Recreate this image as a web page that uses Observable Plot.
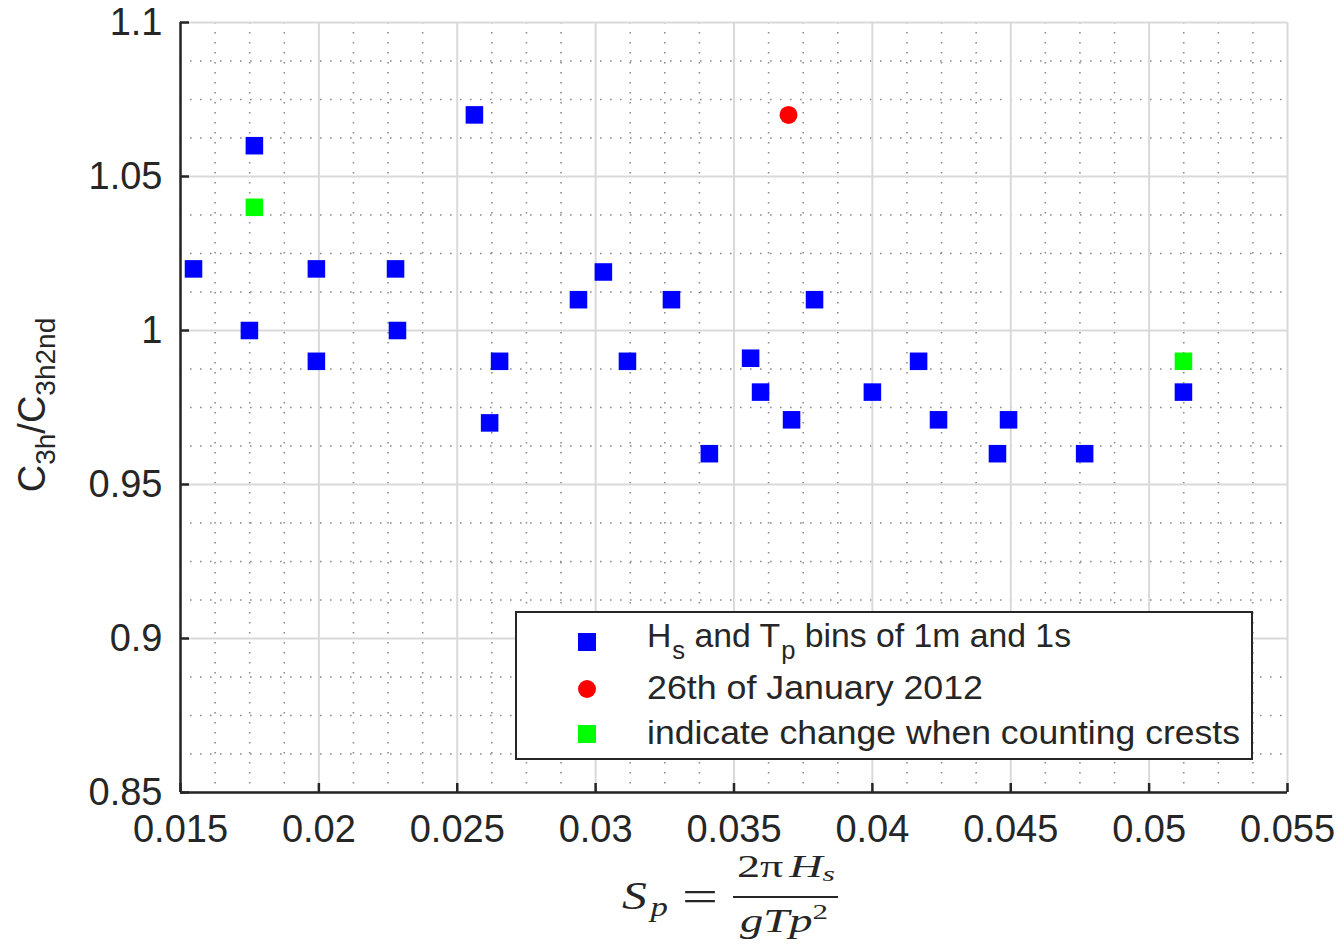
<!DOCTYPE html>
<html><head><meta charset="utf-8">
<script src="https://cdn.jsdelivr.net/npm/d3@7"></script>
<script src="https://cdn.jsdelivr.net/npm/@observablehq/plot@0.6"></script>
<style>html,body{margin:0;padding:0;background:#fff}svg{display:block}</style>
</head><body><div id="chart"></div>
<script>
// ---- data ----
const blueX = [0.01547, 0.01767, 0.01749, 0.01991, 0.01991, 0.02277, 0.02284, 0.02562, 0.02617, 0.02653,
               0.02938, 0.03028, 0.03115, 0.03274, 0.03411, 0.03560, 0.03596, 0.03708, 0.03791, 0.04000,
               0.04167, 0.04239, 0.04452, 0.04492, 0.04767, 0.05124];
const blueY = [1.02, 1.06, 1.00, 1.02, 0.99, 1.02, 1.00, 1.07, 0.97, 0.99,
               1.01, 1.019, 0.99, 1.01, 0.96, 0.991, 0.98, 0.971, 1.01, 0.98,
               0.99, 0.971, 0.96, 0.971, 0.96, 0.98];
const redX = [0.03697];
const redY = [1.07];
const greenX = [0.01767, 0.05124];
const greenY = [1.04, 0.99];

const xTicks = [0.015, 0.02, 0.025, 0.03, 0.035, 0.04, 0.045, 0.05, 0.055];
const xTickLabels = ["0.015", "0.02", "0.025", "0.03", "0.035", "0.04", "0.045", "0.05", "0.055"];
const yTicks = [0.85, 0.9, 0.95, 1, 1.05, 1.1];
const yTickLabels = ["0.85", "0.9", "0.95", "1", "1.05", "1.1"];
const xMinor = d3.range(0, 33).filter(i => i % 4 !== 0).map(i => 0.015 + i * 0.00125);
const yMinor = d3.range(0, 21).filter(i => i % 4 !== 0).map(i => 0.85 + i * 0.0125);

const blue = blueX.map((x, i) => ({x, y: blueY[i]}));
const red = redX.map((x, i) => ({x, y: redY[i]}));
const green = greenX.map((x, i) => ({x, y: greenY[i]}));

// ---- layout ----
const W = 1344, H = 947, mL = 180, mR = 57, mT = 22, mB = 155;
const frameH = H - mT - mB, frameW = W - mL - mR;
const ink = "#262626";

const plot = Plot.plot({
  width: W, height: H,
  marginLeft: mL, marginRight: mR, marginTop: mT, marginBottom: mB,
  style: {fontFamily: "'Liberation Sans', Arial, sans-serif", fontSize: "38px", color: ink, background: "#fff"},
  x: {domain: [0.015, 0.055]},
  y: {domain: [0.85, 1.1]},
  marks: [
    Plot.ruleX(xMinor, {stroke: "#8c8c8c", strokeWidth: 1.6, strokeDasharray: "1.6,8.4"}),
    Plot.ruleY(yMinor, {stroke: "#8c8c8c", strokeWidth: 1.6, strokeDasharray: "1.6,8.4"}),
    Plot.ruleX(xTicks, {stroke: "#d9d9d9", strokeWidth: 2}),
    Plot.ruleY(yTicks, {stroke: "#d9d9d9", strokeWidth: 2}),
    Plot.tickX(xTicks, {x: d => d, insetTop: frameH - 9, stroke: ink, strokeWidth: 2.5}),
    Plot.tickY(yTicks, {y: d => d, insetRight: frameW - 9, stroke: ink, strokeWidth: 2.5}),
    Plot.ruleX([0.015], {stroke: ink, strokeWidth: 2.5}),
    Plot.ruleY([0.85], {stroke: ink, strokeWidth: 2.5}),
    Plot.axisX({ticks: xTicks, tickSize: 0, tickPadding: 23, label: null, fontSize: 38,
                tickFormat: d => xTickLabels[xTicks.indexOf(d)]}),
    Plot.axisY({ticks: yTicks, tickSize: 0, tickPadding: 18, label: null, fontSize: 38,
                tickFormat: d => yTickLabels[yTicks.indexOf(d)]}),
    Plot.dot(blue, {x: "x", y: "y", symbol: "square", r: 9.9, fill: "#0000ff"}),
    Plot.dot(red, {x: "x", y: "y", symbol: "circle", r: 9, fill: "#ff0000"}),
    Plot.dot(green, {x: "x", y: "y", symbol: "square", r: 9.9, fill: "#00ff00"})
  ]
});
document.getElementById("chart").appendChild(plot);

const svg = d3.select(plot);
const sans = "'Liberation Sans', Arial, sans-serif";
const serif = "'Liberation Serif', 'Times New Roman', serif";

// ---- y-axis label ----
const yl = svg.append("text")
  .attr("transform", `translate(45,${mT + frameH / 2 - 2}) rotate(-90)`)
  .attr("text-anchor", "middle").attr("fill", ink)
  .attr("font-family", sans).attr("font-size", 38);
yl.append("tspan").text("C");
yl.append("tspan").attr("font-size", 28).attr("dy", 10).text("3h");
yl.append("tspan").attr("dy", -10).text("/C");
yl.append("tspan").attr("font-size", 28).attr("dy", 10).text("3h2nd");

// ---- x-axis label (formula) ----
const fx = svg.append("g").attr("fill", ink).attr("font-family", serif).attr("text-anchor", "start");
const sp = fx.append("text").attr("x", 622).attr("y", 909).attr("font-size", 40).attr("font-style", "italic")
  .attr("text-anchor", "start").attr("textLength", 46).attr("lengthAdjust", "spacingAndGlyphs");
sp.append("tspan").text("S");
sp.append("tspan").attr("font-size", 28).attr("dy", 7).attr("dx", 3).text("p");
fx.append("text").attr("x", 682).attr("y", 911).attr("font-size", 44).attr("text-anchor", "start")
  .attr("textLength", 36).attr("lengthAdjust", "spacingAndGlyphs").text("=");
const num = fx.append("text").attr("x", 786).attr("y", 877).attr("text-anchor", "middle").attr("font-size", 32)
  .attr("textLength", 98).attr("lengthAdjust", "spacingAndGlyphs");
num.append("tspan").text("2π");
num.append("tspan").attr("font-style", "italic").attr("dx", 4).text("H");
num.append("tspan").attr("font-style", "italic").attr("font-size", 22).attr("dy", 4).text("s");
fx.append("line").attr("x1", 733).attr("x2", 838).attr("y1", 897).attr("y2", 897)
  .attr("stroke", ink).attr("stroke-width", 2);
const den = fx.append("text").attr("x", 784).attr("y", 932).attr("text-anchor", "middle").attr("font-size", 33)
  .attr("font-style", "italic").attr("textLength", 88).attr("lengthAdjust", "spacingAndGlyphs");
den.append("tspan").text("gTp");
den.append("tspan").attr("font-size", 22).attr("dy", -13).attr("font-style", "normal").text("2");

// ---- legend ----
const lg = svg.append("g").attr("font-family", sans).attr("fill", ink).attr("text-anchor", "start");
lg.append("rect").attr("x", 516).attr("y", 612).attr("width", 736).attr("height", 147)
  .attr("fill", "#fff").attr("stroke", ink).attr("stroke-width", 2);
const rows = [642, 689, 734];
lg.append("rect").attr("x", 578).attr("y", rows[0] - 9).attr("width", 18).attr("height", 18).attr("fill", "#0000ff");
lg.append("circle").attr("cx", 587).attr("cy", rows[1]).attr("r", 9).attr("fill", "#ff0000");
lg.append("rect").attr("x", 578).attr("y", rows[2] - 9).attr("width", 18).attr("height", 18).attr("fill", "#00ff00");
const t1 = lg.append("text").attr("x", 647).attr("y", 647).attr("font-size", 33).attr("text-anchor", "start")
  .attr("textLength", 424).attr("lengthAdjust", "spacingAndGlyphs");
t1.append("tspan").text("H");
t1.append("tspan").attr("font-size", 25).attr("dy", 12).attr("dx", 1).text("s");
t1.append("tspan").attr("dy", -12).text(" and T");
t1.append("tspan").attr("font-size", 25).attr("dy", 12).attr("dx", 1).text("p");
t1.append("tspan").attr("dy", -12).text(" bins of 1m and 1s");
lg.append("text").attr("x", 647).attr("y", 699).attr("font-size", 33).attr("text-anchor", "start")
  .attr("textLength", 336).attr("lengthAdjust", "spacingAndGlyphs").text("26th of January 2012");
lg.append("text").attr("x", 647).attr("y", 744).attr("font-size", 33).attr("text-anchor", "start")
  .attr("textLength", 593).attr("lengthAdjust", "spacingAndGlyphs").text("indicate change when counting crests");
</script>
</body></html>
